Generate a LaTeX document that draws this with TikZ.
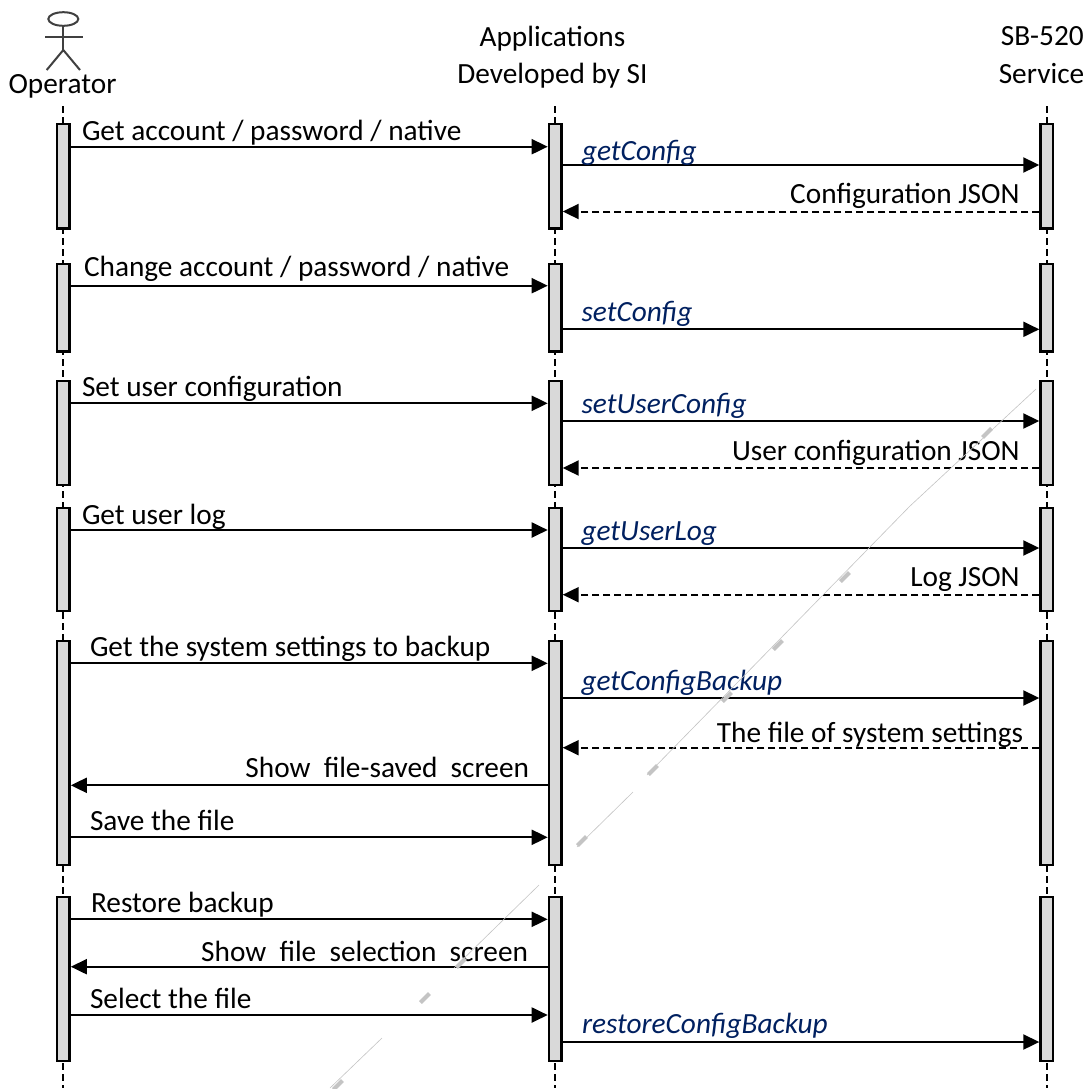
\documentclass[tikz,border=0pt]{standalone}
\usepackage{fontspec}
\setmainfont{Carlito}
\usetikzlibrary{arrows.meta}
\definecolor{barfill}{HTML}{D9D9D9}
\definecolor{callblue}{HTML}{002060}
\definecolor{actorgray}{HTML}{404040}
\definecolor{wmgray}{HTML}{C4C4C4}
\tikzset{
  every node/.style={font=\fontsize{29.3pt}{37pt}\selectfont, inner sep=0pt, outer sep=0pt},
  lifeline/.style={line width=2pt, dash pattern=on 6.5pt off 4.5pt},
  actbar/.style={draw=black, line width=2.4pt, fill=barfill, minimum width=12.6pt, outer sep=1.2pt},
  msg/.style={line width=2pt, -{Triangle[length=16pt,width=15pt]}},
  reply/.style={line width=2pt, dash pattern=on 7pt off 4pt, -{Triangle[length=16pt,width=15pt]}},
  lbl/.style={anchor=base west},
  rlbl/.style={anchor=base east},
  call/.style={anchor=base west, text=callblue, font=\fontsize{29.3pt}{37pt}\selectfont\itshape},
  actor/.style={draw=actorgray, line width=2pt},
  wmthin/.style={draw=wmgray, line width=0.6pt},
  wmthick/.style={draw=wmgray, line width=4pt},
}
\begin{document}
\begin{tikzpicture}[x=1pt,y=-1pt]
\useasboundingbox (0,0) rectangle (1092,1088);
\fill[white] (0,0) rectangle (1092,1088);

% actor
\draw[actor] (63.3,19) ellipse [x radius=15, y radius=6.8];
\draw[actor] (63.3,25.8) -- (63.3,50);
\draw[actor] (45,37.3) -- (83,37.3);
\draw[actor] (46.7,70) -- (63.3,50) -- (80,70);

% headers
\node[anchor=base] (hop) at (62.5,93.5) {Operator};
\node[anchor=base] (hap1) at (552.5,46.7) {Applications};
\node[anchor=base] (hap2) at (552.5,83.3) {Developed by SI};
\node[anchor=base] (hsv1) at (1042.3,45.7) {SB-520};
\node[anchor=base] (hsv2) at (1041.5,83) {Service};

% lifelines
\coordinate (lo) at (63.3,106);
\coordinate (la) at (555.2,106);
\coordinate (ls) at (1046.8,106);
\draw[lifeline] (lo) -- (lo |- 0,1088);
\draw[lifeline] (la) -- (la |- 0,1088);
\draw[lifeline] (ls) -- (ls |- 0,1088);

% activation bars
\foreach \n/\top/\bot in {1/123/229.5, 2/262.7/352.7, 3/380/486, 4/506.7/612, 5/640/866, 6/896/1062} {
  \node[actbar, minimum height=\bot-\top-2.4] (o\n) at (63.3,{(\top+\bot)/2}) {};
  \node[actbar, minimum height=\bot-\top-2.4] (a\n) at (555.2,{(\top+\bot)/2}) {};
  \node[actbar, minimum height=\bot-\top-2.4] (s\n) at (1046.8,{(\top+\bot)/2}) {};
}

% group 1
\draw[msg] (o1.east |- 0,146.7) -- (a1.west |- 0,146.7);
\node[lbl] (t1) at (82,140.5) {Get account / password / native};
\draw[msg] (a1.east |- 0,165) -- (s1.west |- 0,165);
\node[call] (c1) at (582,160) {getConfig};
\draw[reply] (s1.west |- 0,211.5) -- (a1.east |- 0,211.5);
\node[rlbl] (r1) at (1019.5,203.5) {Configuration JSON};

% group 2
\draw[msg] (o2.east |- 0,285.7) -- (a2.west |- 0,285.7);
\node[lbl] (t2) at (84,276.5) {Change account / password / native};
\draw[msg] (a2.east |- 0,329.3) -- (s2.west |- 0,329.3);
\node[call] (c2) at (581.5,321.7) {setConfig};

% group 3
\draw[msg] (o3.east |- 0,403.3) -- (a3.west |- 0,403.3);
\node[lbl] (t3) at (82,396.7) {Set user configuration};
\draw[msg] (a3.east |- 0,421) -- (s3.west |- 0,421);
\node[call] (c3) at (581.5,413.3) {setUserConfig};
\draw[reply] (s3.west |- 0,468) -- (a3.east |- 0,468);
\node[rlbl] (r3) at (1019.6,460) {User configuration JSON};

% group 4
\draw[msg] (o4.east |- 0,530) -- (a4.west |- 0,530);
\node[lbl] (t4) at (82,524) {Get user log};
\draw[msg] (a4.east |- 0,548) -- (s4.west |- 0,548);
\node[call] (c4) at (581.5,540) {getUserLog};
\draw[reply] (s4.west |- 0,594.7) -- (a4.east |- 0,594.7);
\node[rlbl] (r4) at (1019.6,586.7) {Log JSON};

% group 5
\draw[msg] (o5.east |- 0,663.3) -- (a5.west |- 0,663.3);
\node[lbl] (t5) at (90,656) {Get the system settings to backup};
\draw[msg] (a5.east |- 0,698) -- (s5.west |- 0,698);
\node[call] (c5) at (581.5,690.7) {getConfigBackup};
\draw[reply] (s5.west |- 0,747.7) -- (a5.east |- 0,747.7);
\node[rlbl] (r5) at (1023,742.5) {The file of system settings};
\draw[msg] (a5.west |- 0,785.3) -- (o5.east |- 0,785.3);
\node[rlbl] (t6) at (529,777) {Show\ \ file-saved\ \ screen};
\draw[msg] (o5.east |- 0,837.3) -- (a5.west |- 0,837.3);
\node[lbl] (t7) at (90,830) {Save the file};

% group 6
\draw[msg] (o6.east |- 0,919.3) -- (a6.west |- 0,919.3);
\node[lbl] (t8) at (91,912.7) {Restore backup};
\draw[msg] (a6.west |- 0,966.7) -- (o6.east |- 0,966.7);
\node[rlbl] (t9) at (528,961.7) {Show\ \ file\ \ selection\ \ screen};
\draw[msg] (o6.east |- 0,1015) -- (a6.west |- 0,1015);
\node[lbl] (t10) at (90,1008) {Select the file};
\draw[msg] (a6.east |- 0,1042) -- (s6.west |- 0,1042);
\node[call] (c6) at (582,1033.3) {restoreConfigBackup};

% watermark
\draw[wmthin] (1036,389) -- (910,506) -- (647,775);
\draw[wmthin] (633,792) -- (577,847);
\draw[wmthin] (539,885) -- (454,968);
\draw[wmthin] (382,1038) -- (330,1088);
\foreach \px/\py in {987/433, 845/577, 778/645, 727/697, 653/770, 582/841, 461/963, 425/998, 338/1085} {
  \draw[wmthick] (\px-4.5,\py+4.5) -- (\px+4.5,\py-4.5);
}
\end{tikzpicture}
\end{document}
